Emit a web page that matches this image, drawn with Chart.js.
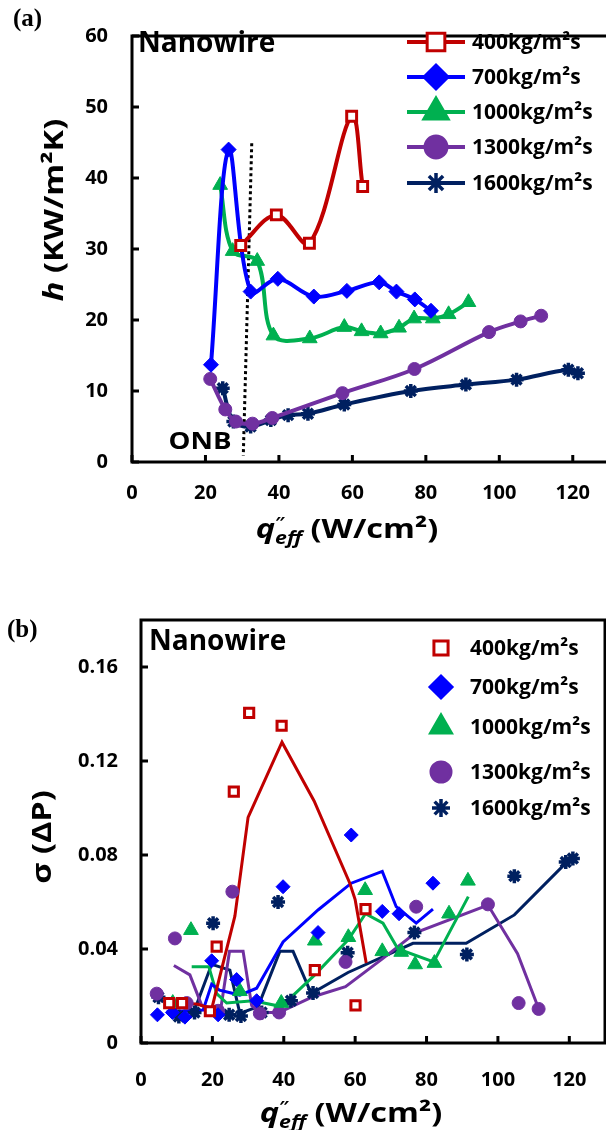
<!DOCTYPE html>
<html>
<head>
<meta charset="utf-8">
<script src="https://cdn.jsdelivr.net/npm/chart.js@4.4.1/dist/chart.umd.min.js"></script>
<style>
  html, body { margin: 0; padding: 0; background: #fff; overflow: hidden; }
  #wrap { position: relative; width: 606px; height: 1130px; overflow: hidden; }
  .box { position: absolute; left: 0; width: 620px; height: 565px; }
  #boxA { top: 0; }
  #boxB { top: 565px; }
</style>
</head>
<body>
<div id="wrap">
  <div class="box" id="boxA"><canvas id="chartA" width="620" height="565"></canvas></div>
  <div class="box" id="boxB"><canvas id="chartB" width="620" height="565"></canvas></div>
</div>
<script>
'use strict';
// data

var seriesNames = ['400kg/m²s', '700kg/m²s', '1000kg/m²s', '1300kg/m²s', '1600kg/m²s'];
var xTicks = [0, 20, 40, 60, 80, 100, 120];
var hTicks = [0, 10, 20, 30, 40, 50, 60];
var sigmaTicks = [0, 0.04, 0.08, 0.12, 0.16];

// (a) h (KW/m2K) against q''eff (W/cm2)
var hQ400 = [29.6, 39.3, 48.3, 59.8, 62.8];
var hH400 = [30.5, 34.8, 30.8, 48.7, 38.8];
var hQ700 = [21.5, 26.3, 32.3, 39.7, 49.5, 58.5, 67.3, 72.0, 77.0, 81.4];
var hH700 = [13.7, 44.0, 24.0, 25.8, 23.3, 24.1, 25.3, 24.0, 22.9, 21.3];
var hQ1000 = [24.0, 27.4, 34.1, 38.5, 48.4, 57.8, 62.5, 67.7, 72.7, 76.8, 81.9, 86.2, 91.6];
var hH1000 = [39.0, 29.7, 28.3, 17.8, 17.4, 19.0, 18.4, 18.1, 18.9, 20.2, 20.2, 20.8, 22.5];
var hQ1300 = [21.3, 25.4, 28.3, 32.8, 38.2, 57.3, 76.9, 97.2, 105.8, 111.4];
var hH1300 = [11.7, 7.4, 5.7, 5.4, 6.2, 9.7, 13.1, 18.3, 19.8, 20.6];
var hQ1600 = [24.7, 27.6, 32.3, 37.8, 42.5, 47.9, 57.8, 75.9, 90.9, 104.7, 118.8, 121.4];
var hH1600 = [10.4, 5.7, 5.0, 5.9, 6.6, 6.8, 8.1, 10.0, 10.9, 11.6, 13.0, 12.5];
var onbQ = [32.6, 30.3];
var onbH = [44.9, 0.9];

// (b) sigma(dP) points
var sQ400 = [7.9, 11.5, 19.3, 21.2, 26.0, 30.3, 39.4, 48.7, 60.1, 62.9];
var sS400 = [0.017, 0.017, 0.0135, 0.041, 0.107, 0.1405, 0.135, 0.031, 0.016, 0.057];
var sQ700 = [4.6, 8.8, 12.3, 19.8, 21.6, 26.8, 32.4, 39.8, 49.6, 58.9, 67.6, 72.3, 81.8];
var sS700 = [0.012, 0.013, 0.011, 0.035, 0.012, 0.027, 0.018, 0.0665, 0.047, 0.0885, 0.056, 0.055, 0.068];
var sQ1000 = [8.9, 14.0, 27.7, 39.3, 48.7, 58.1, 62.8, 67.6, 72.9, 76.8, 82.2, 86.3, 91.6];
var sS1000 = [0.017, 0.048, 0.022, 0.017, 0.0435, 0.045, 0.065, 0.039, 0.0387, 0.0334, 0.034, 0.055, 0.069];
var sQ1300 = [4.4, 9.5, 12.8, 21.6, 25.6, 33.3, 38.7, 57.3, 77.1, 97.2, 105.8, 111.4];
var sS1300 = [0.021, 0.0445, 0.017, 0.0137, 0.0644, 0.0126, 0.013, 0.0345, 0.058, 0.059, 0.017, 0.0145];
var sQ1600 = [4.9, 10.6, 15.0, 20.2, 24.7, 28.0, 33.8, 38.4, 42.0, 48.2, 57.9, 76.6, 91.3, 104.6, 119.0, 121.0];
var sS1600 = [0.0195, 0.0113, 0.013, 0.051, 0.012, 0.0115, 0.013, 0.060, 0.018, 0.0213, 0.0384, 0.047, 0.0377, 0.071, 0.077, 0.0785];

// (b) trend lines
var lQ400 = [7.9, 11.5, 16.0, 19.8, 26.3, 30.0, 39.5, 48.5, 58.5, 60.0, 63.1];
var lS400 = [0.017, 0.017, 0.0165, 0.0145, 0.054, 0.096, 0.128, 0.103, 0.068, 0.061, 0.034];
var lQ700 = [7.2, 17.4, 19.8, 22.0, 27.7, 32.4, 39.8, 49.6, 58.9, 67.6, 71.5, 77.1, 81.8];
var lS700 = [0.0133, 0.014, 0.025, 0.0225, 0.0204, 0.0233, 0.043, 0.0566, 0.068, 0.073, 0.058, 0.051, 0.057];
var lQ1000 = [14.2, 19.0, 21.2, 24.0, 31.4, 39.3, 48.7, 58.1, 62.9, 67.8, 72.0, 82.0, 91.7];
var lS1000 = [0.0325, 0.0325, 0.021, 0.017, 0.018, 0.0155, 0.029, 0.044, 0.055, 0.051, 0.040, 0.0345, 0.0623];
var lQ1300 = [9.2, 13.7, 17.0, 22.3, 24.8, 28.6, 31.0, 33.3, 38.7, 48.2, 57.3, 67.8, 77.0, 97.2, 105.5, 111.4];
var lS1300 = [0.033, 0.029, 0.016, 0.014, 0.039, 0.039, 0.016, 0.013, 0.013, 0.0197, 0.024, 0.036, 0.047, 0.0587, 0.038, 0.0147];
var lQ1600 = [10.4, 15.0, 19.8, 24.9, 27.7, 32.8, 38.9, 42.6, 47.7, 58.0, 76.2, 91.1, 104.6, 119.0, 121.0];
var lS1600 = [0.0155, 0.014, 0.0335, 0.031, 0.0126, 0.0155, 0.039, 0.039, 0.021, 0.030, 0.0424, 0.0424, 0.0545, 0.0765, 0.079];

// styles
var colors = ['#C00000', '#0000FF', '#00B050', '#7030A0', '#002060'];
var pointStyles = ['rect', 'rectRot', 'triangle', 'circle', 'star'];
var fills = ['#FFFFFF', '#0000FF', '#00B050', '#7030A0', '#002060'];
var radiiA = [7, 7.5, 8.5, 6.5, 7];
var radiiB = [6.5, 7, 8.5, 6.5, 7];
var legendRadii = [12.5, 12, 14, 11, 10];
var FONT = '"Open Sans", "DejaVu Sans", sans-serif';

function pts(xs, ys) {
  return xs.map(function(x, i) { return { x: x, y: ys[i] }; });
}

// frame round the plot area plus inward tick marks
var framePlugin = {
  id: 'frame',
  afterDraw: function(chart) {
    var a = chart.chartArea;
    var ctx = chart.ctx;
    var xs = chart.scales.x;
    var ys = chart.scales.y;
    ctx.save();
    ctx.strokeStyle = '#000';
    ctx.lineWidth = 3;
    ctx.strokeRect(a.left, a.top, a.right - a.left, a.bottom - a.top);
    ctx.beginPath();
    xs.ticks.forEach(function(t) {
      var px = xs.getPixelForValue(t.value);
      ctx.moveTo(px, a.bottom);
      ctx.lineTo(px, a.bottom - 7);
    });
    ys.ticks.forEach(function(t) {
      var py = ys.getPixelForValue(t.value);
      ctx.moveTo(a.left, py);
      ctx.lineTo(a.left + 7, py);
    });
    ctx.stroke();
    ctx.restore();
  }
};

// draws a row of text pieces with their own fonts, stretched sideways by sx
function drawParts(ctx, parts, x, y, sx) {
  var total = 0;
  parts.forEach(function(p) {
    ctx.font = p.font;
    p.w = ctx.measureText(p.t).width;
    if (p.adv !== false) total += p.w;
  });
  ctx.save();
  ctx.translate(x, y);
  ctx.scale(sx, 1);
  var cx = -total / 2;
  parts.forEach(function(p) {
    ctx.font = p.font;
    ctx.fillText(p.t, cx, p.dy || 0);
    if (p.adv !== false) cx += p.w;
  });
  ctx.restore();
}

// legend and labels drawn from plugin options
var textPlugin = {
  id: 'panelText',
  afterDraw: function(chart, args, opts) {
    var ctx = chart.ctx;
    ctx.save();
    ctx.fillStyle = '#000';
    ctx.textBaseline = 'alphabetic';
    ctx.textAlign = 'left';

    ctx.font = 'bold 25px "Liberation Serif", serif';
    ctx.fillText(opts.panel, opts.panelPos[0], opts.panelPos[1]);

    ctx.font = 'bold 28px ' + FONT;
    ctx.fillText('Nanowire', opts.namePos[0], opts.namePos[1]);

    if (opts.onb) {
      drawParts(ctx, [{ t: 'ONB', font: 'bold 24px ' + FONT }], opts.onb[0], opts.onb[1], 1.15);
    }

    // x title
    drawParts(ctx, [
      { t: 'q', font: 'italic bold 26px ' + FONT },
      { t: '″', font: 'bold 15px ' + FONT, dy: -11, adv: false },
      { t: 'eff', font: 'italic bold 17px ' + FONT, dy: 6 },
      { t: ' (W/cm²)', font: 'bold 26px ' + FONT }
    ], opts.xTitle[0], opts.xTitle[1], 1.25);

    // y title, rotated
    ctx.save();
    ctx.translate(opts.yTitle[0], opts.yTitle[1]);
    ctx.rotate(-Math.PI / 2);
    ctx.textBaseline = 'middle';
    drawParts(ctx, opts.yParts, 0, 0, 1.25);
    ctx.restore();

    // legend
    var L = opts.legend;
    ctx.textBaseline = 'middle';
    for (var i = 0; i < seriesNames.length; i++) {
      var y = L.rows[i];
      if (L.line) {
        ctx.strokeStyle = colors[i];
        ctx.lineWidth = 4;
        ctx.beginPath();
        ctx.moveTo(L.line[0], y);
        ctx.lineTo(L.line[1], y);
        ctx.stroke();
      }
      ctx.fillStyle = fills[i];
      ctx.strokeStyle = colors[i];
      ctx.lineWidth = i === 4 ? 3.5 : 3;
      Chart.helpers.drawPoint(ctx, {
        pointStyle: pointStyles[i],
        radius: L.radii[i],
        rotation: 0,
        borderWidth: i === 0 || i === 4 ? 3 : 1
      }, L.marker, y);
      ctx.fillStyle = '#000';
      ctx.font = 'bold 21px ' + FONT;
      ctx.fillText(seriesNames[i], L.text, y + 1);
    }
    ctx.restore();
  }
};

function axisX(pad, h) {
  return {
    type: 'linear',
    min: 0,
    max: 130,
    grid: { display: false, drawTicks: false },
    border: { display: false },
    afterFit: function(s) { s.height = h; },
    afterBuildTicks: function(s) { s.ticks = xTicks.map(function(v) { return { value: v }; }); },
    ticks: {
      padding: pad,
      color: '#000',
      font: { family: FONT, size: 20, weight: 'bold' },
      maxRotation: 0
    }
  };
}

function axisY(max, tickList, w, pad, fmt) {
  return {
    type: 'linear',
    min: 0,
    max: max,
    grid: { display: false, drawTicks: false },
    border: { display: false },
    afterFit: function(s) { s.width = w; },
    afterBuildTicks: function(s) { s.ticks = tickList.map(function(v) { return { value: v }; }); },
    ticks: {
      padding: pad,
      color: '#000',
      font: { family: FONT, size: 20, weight: 'bold' },
      callback: fmt
    }
  };
}

// panel (a)
var aQ = [hQ400, hQ700, hQ1000, hQ1300, hQ1600];
var aH = [hH400, hH700, hH1000, hH1300, hH1600];
var dataA = [];
for (var i = 0; i < 5; i++) {
  dataA.push({
    label: seriesNames[i],
    data: pts(aQ[i], aH[i]),
    showLine: true,
    borderColor: colors[i],
    backgroundColor: fills[i],
    borderWidth: 4,
    tension: 0.35,
    pointStyle: pointStyles[i],
    pointRadius: radiiA[i],
    pointBorderWidth: i === 0 ? 3 : (i === 4 ? 3.5 : 1),
    pointBorderColor: colors[i],
    pointBackgroundColor: fills[i]
  });
}
dataA.push({
  label: 'ONB',
  data: pts(onbQ, onbH),
  showLine: true,
  borderColor: '#000',
  borderWidth: 3,
  borderDash: [3, 3],
  pointRadius: 0
});

new Chart(document.getElementById('chartA'), {
  type: 'scatter',
  data: { datasets: dataA },
  options: {
    responsive: false,
    animation: false,
    devicePixelRatio: 1,
    events: [],
    layout: { padding: { top: 16, right: 7, left: 0, bottom: 0 } },
    scales: {
      x: axisX(19, 103),
      y: axisY(60, hTicks, 132, 24, function(v) { return v; })
    },
    plugins: {
      legend: { display: false },
      tooltip: { enabled: false },
      panelText: {
        panel: '(a)',
        panelPos: [13, 26],
        namePos: [138, 52],
        onb: [200, 449],
        xTitle: [347, 538],
        yTitle: [56, 210],
        yParts: [
          { t: 'h', font: 'italic bold 26px ' + FONT },
          { t: ' (KW/m²K)', font: 'bold 26px ' + FONT }
        ],
        legend: {
          rows: [42, 77, 112, 147, 183],
          line: [407, 465],
          marker: 436,
          text: 472,
          radii: legendRadii
        }
      }
    }
  },
  plugins: [framePlugin, textPlugin]
});

// panel (b)
var bQ = [sQ400, sQ700, sQ1000, sQ1300, sQ1600];
var bS = [sS400, sS700, sS1000, sS1300, sS1600];
var bLQ = [lQ400, lQ700, lQ1000, lQ1300, lQ1600];
var bLS = [lS400, lS700, lS1000, lS1300, lS1600];
var dataB = [];
for (var j = 0; j < 5; j++) {
  dataB.push({
    label: seriesNames[j],
    data: pts(bQ[j], bS[j]),
    showLine: false,
    pointStyle: pointStyles[j],
    pointRadius: radiiB[j],
    pointBorderWidth: j === 0 ? 3 : (j === 4 ? 3.5 : 1),
    pointBorderColor: colors[j],
    pointBackgroundColor: fills[j]
  });
}
for (var k = 0; k < 5; k++) {
  dataB.push({
    label: seriesNames[k] + ' line',
    data: pts(bLQ[k], bLS[k]),
    showLine: true,
    borderColor: colors[k],
    borderWidth: 3,
    tension: 0,
    pointRadius: 0
  });
}

new Chart(document.getElementById('chartB'), {
  type: 'scatter',
  data: { datasets: dataB },
  options: {
    responsive: false,
    animation: false,
    devicePixelRatio: 1,
    events: [],
    layout: { padding: { top: 55, right: 15, left: 0, bottom: 0 } },
    scales: {
      x: axisX(25, 87),
      y: axisY(0.18, sigmaTicks, 141, 23, function(v) { return v === 0 ? '0' : v.toFixed(2); })
    },
    plugins: {
      legend: { display: false },
      tooltip: { enabled: false },
      panelText: {
        panel: '(b)',
        panelPos: [7, 72],
        namePos: [149, 85],
        onb: null,
        xTitle: [351, 557],
        yTitle: [44, 272],
        yParts: [
          { t: 'σ (ΔP)', font: 'bold 26px ' + FONT }
        ],
        legend: {
          rows: [83, 122, 162, 207, 243],
          line: null,
          marker: 441,
          text: 470,
          radii: [10, 11, 12, 10, 9]
        }
      }
    }
  },
  plugins: [framePlugin, textPlugin]
});
</script>
</body>
</html>
